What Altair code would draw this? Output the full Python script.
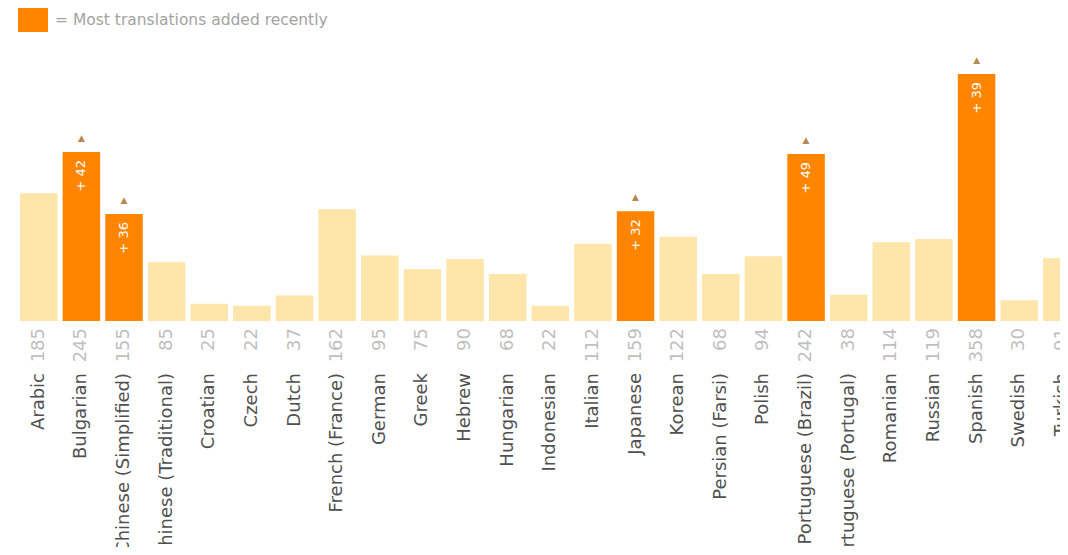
import altair as alt
import pandas as pd

languages = ["Arabic", "Bulgarian", "Chinese (Simplified)", "Chinese (Traditional)",
             "Croatian", "Czech", "Dutch", "French (France)", "German", "Greek",
             "Hebrew", "Hungarian", "Indonesian", "Italian", "Japanese", "Korean",
             "Persian (Farsi)", "Polish", "Portuguese (Brazil)", "Portuguese (Portugal)",
             "Romanian", "Russian", "Spanish", "Swedish", "Turkish"]
counts = [185, 245, 155, 85, 25, 22, 37, 162, 95, 75, 90, 68, 22, 112, 159, 122,
          68, 94, 242, 38, 114, 119, 358, 30, 91]
recently_added = [0, 42, 36, 0, 0, 0, 0, 0, 0, 0, 0, 0, 0, 0, 32, 0,
                  0, 0, 49, 0, 0, 0, 39, 0, 0]
legend_text = "= Most translations added recently"

ORANGE = "#ff8500"
PALE = "#fee6aa"

df = pd.DataFrame({"lang": languages, "count": counts, "added": recently_added})
df["kind"] = ["recent" if a > 0 else "other" for a in df["added"]]
df["addlabel"] = ["+ %d" % a if a > 0 else "" for a in df["added"]]

x = alt.X("lang:N", sort=languages, axis=None,
          scale=alt.Scale(range=[12, 1072.6], paddingInner=0.12, paddingOuter=0))
yscale = alt.Scale(domain=[0, 400], range=[313, 37])
y = alt.Y("count:Q", scale=yscale, axis=None)

base = alt.Chart(df)

bars = base.mark_bar().encode(
    x=x, y=y,
    color=alt.Color("kind:N", scale=alt.Scale(domain=["recent", "other"], range=[ORANGE, PALE]), legend=None),
)

values = base.mark_text(angle=270, align="right", baseline="middle", dx=-7,
                        fontSize=18, font="DejaVu Sans", color="#c0c0c0").encode(
    x=x, y=alt.value(313), text="count:Q")

names = base.mark_text(angle=270, align="right", baseline="middle", dx=-52,
                       fontSize=18, font="DejaVu Sans", color="#505050").encode(
    x=x, y=alt.value(313), text="lang:N")

recent = base.transform_filter("datum.added > 0")

inc = recent.mark_text(angle=270, align="right", baseline="middle", dx=-8,
                       fontSize=13, font="DejaVu Sans", color="white").encode(
    x=x, y=y, text="addlabel:N")

tri = recent.mark_text(text="▲", dy=-14, baseline="middle", fontSize=9,
                       font="DejaVu Sans", color="#b8894f").encode(x=x, y=y)

leg_df = pd.DataFrame({"t": [legend_text]})
leg_box = alt.Chart(leg_df).mark_rect(color=ORANGE).encode(
    x=alt.value(10), x2=alt.value(40), y=alt.value(0), y2=alt.value(24))
leg_txt = alt.Chart(leg_df).mark_text(align="left", baseline="middle", fontSize=15.5,
                                      font="DejaVu Sans", color="#a3a3a3").encode(
    x=alt.value(47), y=alt.value(12), text="t:N")

chart = alt.layer(bars, values, names, inc, tri, leg_box, leg_txt).properties(
    width=1052, height=539,
    autosize=alt.AutoSizeParams(type="none"),
    padding=0,
    background="white",
).configure_view(stroke=None).resolve_scale(color="independent")

chart.save("out.html", embed_options={"renderer": "svg", "actions": False})
